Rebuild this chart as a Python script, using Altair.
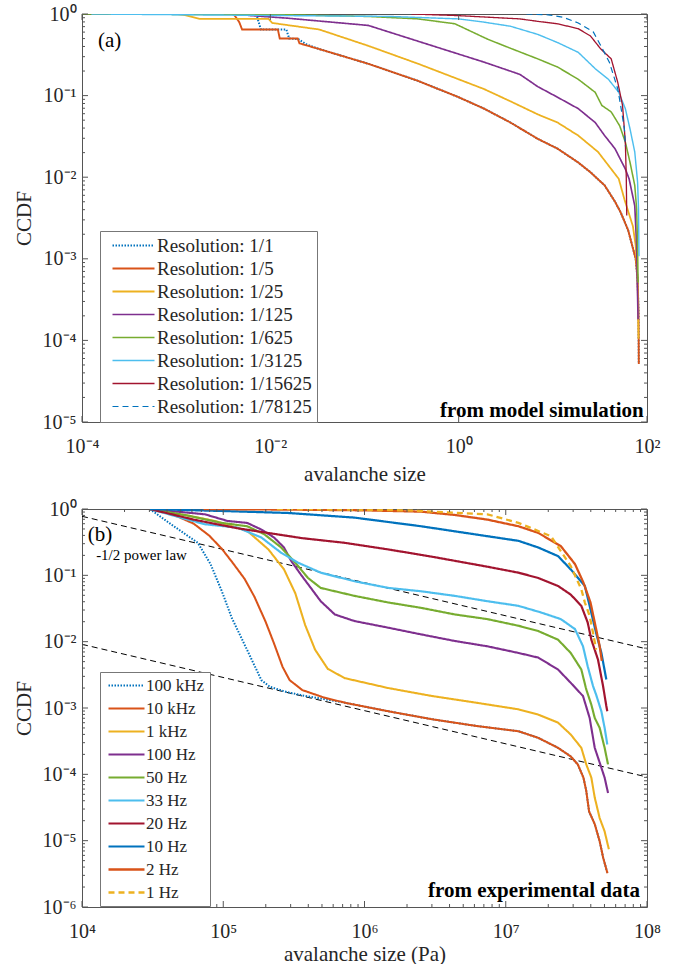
import altair as alt
import pandas as pd

FONT = "Liberation Serif"
INK = "#262626"
FRAME = "#555555"

# ---------------- panel (a): model simulation (log10 coordinates)
A_NAMES = ["Resolution: 1/1", "Resolution: 1/5", "Resolution: 1/25", "Resolution: 1/125",
           "Resolution: 1/625", "Resolution: 1/3125", "Resolution: 1/15625", "Resolution: 1/78125"]
A_COLORS = ["#0072BD", "#D95319", "#EDB120", "#7E2F8E", "#77AC30", "#4DBEEE", "#A2142F", "#0072BD"]
A_DASH = [[1.5, 1.5], [1, 0], [1, 0], [1, 0], [1, 0], [1, 0], [1, 0], [6, 4]]
A_WIDTH = [2.0, 1.2, 1.2, 1.2, 1.2, 1.2, 1.2, 1.2]

A_R1_LX = [-2.15, -2.10, -1.83, -1.80, -1.70, -1.62, -1.48, -0.96, -0.43, 0.0, 0.27, 0.55, 0.84,
           1.05, 1.27, 1.40, 1.55, 1.66, 1.72, 1.80, 1.88, 1.90, 1.91, 1.913]
A_R1_LY = [0.0, -0.19, -0.19, -0.30, -0.31, -0.37, -0.43, -0.61, -0.82, -1.02, -1.16, -1.33, -1.53,
           -1.65, -1.82, -1.94, -2.10, -2.30, -2.43, -2.65, -3.00, -3.25, -3.65, -4.29]
A_R5_LX = [-2.39, -2.33, -2.30, -1.92, -1.90, -1.71, -1.69, -1.48, -0.96, -0.43, 0.0, 0.27, 0.55, 0.84,
           1.05, 1.27, 1.40, 1.55, 1.66, 1.72, 1.80, 1.88, 1.90, 1.91, 1.913]
A_R5_LY = [0.0, -0.10, -0.19, -0.19, -0.30, -0.30, -0.36, -0.43, -0.61, -0.82, -1.02, -1.16, -1.33, -1.53,
           -1.65, -1.82, -1.94, -2.10, -2.30, -2.43, -2.65, -3.00, -3.25, -3.65, -4.29]
A_R25_LX = [-3.0, -2.92, -2.75, -2.02, -1.98, -1.48, -0.96, -0.43, 0.27, 0.55, 0.84, 1.05, 1.27, 1.48,
            1.62, 1.70, 1.76, 1.85, 1.88, 1.90, 1.91]
A_R25_LY = [0.0, -0.01, -0.06, -0.06, -0.11, -0.19, -0.39, -0.61, -0.92, -1.07, -1.23, -1.33, -1.49, -1.69,
            -1.90, -2.02, -2.27, -2.60, -2.84, -3.25, -3.98]
A_R125_LX = [-2.4, -2.2, -1.83, -0.96, -0.25, 0.27, 0.65, 0.84, 1.05, 1.27, 1.45, 1.55, 1.66, 1.77,
             1.81, 1.87, 1.89, 1.90, 1.905]
A_R125_LY = [0.0, -0.02, -0.05, -0.14, -0.40, -0.59, -0.74, -0.89, -1.02, -1.16, -1.33, -1.49, -1.65, -1.90,
             -2.02, -2.35, -2.84, -3.45, -3.74]
A_R625_LX = [-4.0, -1.8, -0.96, -0.43, -0.04, 0.31, 0.55, 0.84, 1.05, 1.27, 1.45, 1.52, 1.62, 1.71,
             1.77, 1.82, 1.87, 1.89, 1.90, 1.905]
A_R625_LY = [0.0, -0.01, -0.03, -0.06, -0.12, -0.31, -0.42, -0.55, -0.65, -0.80, -0.96, -1.12, -1.20, -1.37,
             -1.57, -1.82, -2.10, -2.39, -2.84, -3.29]
A_R3125_LX = [-3.9, -0.73, 0.0, 0.27, 0.55, 0.84, 1.05, 1.27, 1.45, 1.59, 1.70, 1.77, 1.82, 1.87,
              1.90, 1.91, 1.915]
A_R3125_LY = [0.0, -0.03, -0.06, -0.10, -0.15, -0.25, -0.35, -0.47, -0.67, -0.80, -0.96, -1.16, -1.41, -1.69,
              -2.06, -2.39, -2.97]
A_R15625_LX = [-0.5, 0.0, 0.65, 0.84, 1.05, 1.27, 1.40, 1.51, 1.62, 1.69, 1.74, 1.77, 1.78, 1.785]
A_R15625_LY = [0.0, -0.02, -0.06, -0.09, -0.12, -0.18, -0.27, -0.43, -0.55, -0.84, -1.12, -1.57, -2.0, -2.47]
A_R78125_LX = [0.72, 0.95, 1.11, 1.27, 1.43, 1.51, 1.60, 1.69, 1.72, 1.76, 1.77]
A_R78125_LY = [0.0, -0.01, -0.04, -0.11, -0.22, -0.39, -0.59, -0.92, -1.12, -1.41, -1.62]

A_LX = [A_R1_LX, A_R5_LX, A_R25_LX, A_R125_LX, A_R625_LX, A_R3125_LX, A_R15625_LX, A_R78125_LX]
A_LY = [A_R1_LY, A_R5_LY, A_R25_LY, A_R125_LY, A_R625_LY, A_R3125_LY, A_R15625_LY, A_R78125_LY]

# ---------------- panel (b): experimental data
B_NAMES = ["100 kHz", "10 kHz", "1 kHz", "100 Hz", "50 Hz", "33 Hz", "20 Hz", "10 Hz", "2 Hz", "1 Hz"]
B_COLORS = ["#0072BD", "#D95319", "#EDB120", "#7E2F8E", "#77AC30", "#4DBEEE", "#A2142F", "#0072BD",
            "#D95319", "#EDB120"]
B_DASH = [[1.5, 1.5], [1, 0], [1, 0], [1, 0], [1, 0], [1, 0], [1, 0], [1, 0], [1, 0], [6, 4]]
B_WIDTH = [2.0, 2.3, 2.3, 2.3, 2.3, 2.3, 2.3, 2.3, 2.3, 2.3]

B_100K_LX = [4.48, 4.63, 4.82, 4.91, 4.99, 5.06, 5.15, 5.23, 5.27, 5.33, 5.45, 5.56, 5.86, 6.17, 6.48,
             6.79, 7.09, 7.23, 7.37, 7.46, 7.51, 7.55, 7.57, 7.59, 7.63, 7.665, 7.69, 7.72]
B_100K_LY = [0.0, -0.23, -0.51, -0.83, -1.24, -1.64, -2.04, -2.40, -2.58, -2.68, -2.76, -2.81, -2.92, -3.05,
             -3.17, -3.27, -3.35, -3.45, -3.60, -3.73, -3.85, -4.05, -4.25, -4.56, -4.75, -5.01, -5.26, -5.49]
B_10K_LX = [4.48, 4.64, 4.79, 4.90, 4.99, 5.07, 5.15, 5.22, 5.30, 5.36, 5.42, 5.47, 5.56, 5.71, 5.86,
            6.17, 6.48, 6.79, 7.09, 7.23, 7.37, 7.46, 7.51, 7.55, 7.57, 7.59, 7.63, 7.665, 7.69, 7.72]
B_10K_LY = [0.0, -0.08, -0.22, -0.40, -0.60, -0.82, -1.05, -1.32, -1.70, -2.03, -2.38, -2.58, -2.73, -2.84,
            -2.92, -3.05, -3.17, -3.27, -3.35, -3.45, -3.60, -3.73, -3.85, -4.05, -4.25, -4.56, -4.75,
            -5.01, -5.26, -5.49]
B_1K_LX = [4.48, 4.75, 4.94, 5.17, 5.32, 5.43, 5.51, 5.58, 5.65, 5.74, 5.86, 6.17, 6.48, 6.79, 7.09,
           7.23, 7.37, 7.46, 7.535, 7.57, 7.606, 7.63, 7.665, 7.70, 7.73]
B_1K_LY = [0.0, -0.10, -0.18, -0.33, -0.61, -0.91, -1.27, -1.75, -2.12, -2.41, -2.55, -2.70, -2.82, -2.92,
           -3.02, -3.10, -3.22, -3.40, -3.60, -3.85, -4.05, -4.35, -4.66, -4.86, -5.13]
B_100_LX = [4.48, 4.87, 5.03, 5.17, 5.27, 5.36, 5.43, 5.48, 5.55, 5.62, 5.69, 5.79, 5.93, 6.17, 6.40,
            6.64, 6.87, 7.09, 7.23, 7.37, 7.46, 7.547, 7.594, 7.63, 7.677, 7.70, 7.724]
B_100_LY = [0.0, -0.08, -0.18, -0.21, -0.31, -0.43, -0.58, -0.78, -0.99, -1.19, -1.39, -1.59, -1.69, -1.79,
            -1.89, -1.99, -2.07, -2.17, -2.24, -2.42, -2.62, -2.82, -3.15, -3.60, -3.90, -4.05, -4.28]
B_50_LX = [4.48, 4.75, 4.99, 5.17, 5.29, 5.41, 5.51, 5.60, 5.69, 5.93, 6.17, 6.40, 6.64, 6.87, 7.09,
           7.23, 7.37, 7.46, 7.535, 7.57, 7.606, 7.63, 7.665, 7.70, 7.724]
B_50_LY = [0.0, -0.10, -0.21, -0.26, -0.38, -0.58, -0.81, -1.04, -1.19, -1.31, -1.41, -1.49, -1.59, -1.66,
           -1.76, -1.84, -1.97, -2.17, -2.42, -2.72, -2.95, -3.15, -3.30, -3.60, -3.85]
B_33_LX = [4.48, 4.70, 4.87, 5.10, 5.27, 5.41, 5.53, 5.69, 5.93, 6.17, 6.40, 6.64, 6.87, 7.09, 7.25,
           7.39, 7.49, 7.547, 7.58, 7.618, 7.64, 7.677, 7.70, 7.719]
B_33_LY = [0.0, -0.13, -0.23, -0.28, -0.43, -0.66, -0.81, -0.96, -1.09, -1.19, -1.24, -1.31, -1.39, -1.46,
           -1.56, -1.66, -1.81, -2.07, -2.37, -2.67, -2.80, -3.05, -3.30, -3.55]
B_20_LX = [4.48, 4.79, 5.10, 5.56, 5.86, 6.17, 6.48, 6.87, 7.09, 7.23, 7.37, 7.46, 7.535, 7.58, 7.606,
           7.653, 7.689, 7.712, 7.719]
B_20_LY = [0.0, -0.16, -0.29, -0.44, -0.51, -0.61, -0.72, -0.87, -0.96, -1.04, -1.16, -1.29, -1.46, -1.71,
           -1.97, -2.27, -2.67, -2.97, -3.05]
B_10_LX = [4.48, 4.99, 5.46, 5.93, 6.40, 6.87, 7.09, 7.23, 7.37, 7.46, 7.56, 7.594, 7.64, 7.677, 7.712]
B_10_LY = [0.0, -0.03, -0.06, -0.13, -0.26, -0.41, -0.48, -0.58, -0.71, -0.91, -1.16, -1.46, -1.87, -2.17,
           -2.57]
B_2_LX = [4.86, 5.5, 6.0, 6.40, 6.64, 6.87, 7.09, 7.23, 7.39, 7.49, 7.55, 7.60, 7.63, 7.665, 7.68]
B_2_LY = [0.0, -0.01, -0.02, -0.04, -0.09, -0.16, -0.26, -0.36, -0.56, -0.83, -1.11, -1.41, -1.71, -2.07,
          -2.29]
B_1_LX = [5.38, 6.29, 6.87, 7.09, 7.32, 7.46, 7.535, 7.56, 7.594, 7.618, 7.64]
B_1_LY = [0.0, -0.02, -0.08, -0.21, -0.41, -0.86, -1.21, -1.41, -1.61, -1.87, -2.12]

B_LX = [B_100K_LX, B_10K_LX, B_1K_LX, B_100_LX, B_50_LX, B_33_LX, B_20_LX, B_10_LX, B_2_LX, B_1_LX]
B_LY = [B_100K_LY, B_10K_LY, B_1K_LY, B_100_LY, B_50_LY, B_33_LY, B_20_LY, B_10_LY, B_2_LY, B_1_LY]

# -1/2 power-law guide lines (log10 y at x = 1e4 and x = 1e8)
PL_X = [1e4, 1e8]
PL_UPPER_LY = [-0.11, -2.11]
PL_LOWER_LY = [-2.04, -4.04]

# axis tick positions
A_XMAJ = [1e-4, 1e-2, 1e0, 1e2]
A_YMAJ = [10.0 ** e for e in range(-5, 1)]
A_YMIN = [m * 10.0 ** e for e in range(-5, 0) for m in range(2, 10)]
B_XMAJ = [10.0 ** e for e in range(4, 9)]
B_XMIN = [m * 10.0 ** e for e in range(4, 8) for m in range(2, 10)]
B_YMAJ = [10.0 ** e for e in range(-6, 1)]
B_YMIN = [m * 10.0 ** e for e in range(-6, 0) for m in range(2, 10)]

# superscript labels 10^k
expr = "'' + round(log(datum.value) / LN10)"
for a, b in [("-", "⁻"), ("0", "⁰"), ("1", "¹"), ("2", "²"), ("3", "³"), ("4", "⁴"),
             ("5", "⁵"), ("6", "⁶"), ("7", "⁷"), ("8", "⁸"), ("9", "⁹")]:
    expr = f"replace({expr}, '{a}', '{b}')"
LABEL_EXPR = "'10' + " + expr


def frame(names, lxs, lys, field):
    rows = []
    for name, lx, ly in zip(names, lxs, lys):
        for i, (a, b) in enumerate(zip(lx, ly)):
            rows.append({field: name, "x": 10.0 ** a, "y": 10.0 ** b, "i": i})
    return pd.DataFrame(rows)


def make_axis(title, vals, lab_pad, title_pad):
    return alt.Axis(values=vals, labelExpr=LABEL_EXPR, title=title, ticks=False, domain=False, grid=False,
                    labelFont=FONT, labelFontSize=20, labelColor=INK, labelPadding=lab_pad,
                    labelFlush=False, labelOverlap=False, titleFont=FONT, titleFontSize=21,
                    titleFontWeight="normal", titleColor=INK, titlePadding=title_pad)


def tick_layers(maj, mnr, ch, field_enc_fn, W, H):
    out = []
    for vals, L in ((maj, 6), (mnr, 3)):
        if not vals:
            continue
        d = pd.DataFrame({"v": vals})
        base = alt.Chart(d).mark_rule(color=FRAME, strokeWidth=1)
        if ch == "x":
            out.append(base.encode(x=field_enc_fn("v"), y=alt.value(H), y2=alt.value(H - L)))
            out.append(base.encode(x=field_enc_fn("v"), y=alt.value(0), y2=alt.value(L)))
        else:
            out.append(base.encode(y=field_enc_fn("v"), x=alt.value(0), x2=alt.value(L)))
            out.append(base.encode(y=field_enc_fn("v"), x=alt.value(W), x2=alt.value(W - L)))
    return out


def panel(df, field, names, colors, dashes, widths, xdom, ydom, W, H, xmaj, xmin, ymaj, ymin,
          xtitle, xtp, legend, texts, extra=None):
    xs = alt.Scale(type="log", domain=xdom, nice=False)
    ys = alt.Scale(type="log", domain=ydom, nice=False)
    xax = make_axis(xtitle, xmaj, 14, xtp)
    yax = make_axis("CCDF", ymaj, 6, 8)

    def X(f):
        return alt.X(f"{f}:Q", scale=xs, axis=xax)

    def Y(f):
        return alt.Y(f"{f}:Q", scale=ys, axis=yax)

    lines = alt.Chart(df).mark_line(clip=True).encode(
        x=X("x"), y=Y("y"),
        color=alt.Color(f"{field}:N", scale=alt.Scale(domain=names, range=colors), legend=legend),
        strokeDash=alt.StrokeDash(f"{field}:N", scale=alt.Scale(domain=names, range=dashes), legend=legend),
        strokeWidth=alt.StrokeWidth(f"{field}:O", scale=alt.Scale(domain=names, range=widths), legend=None),
        order=alt.Order("i:Q"),
    )
    layers = []
    if extra is not None:
        layers.append(extra(X, Y))
    layers.append(lines)
    for t in texts:
        td = pd.DataFrame({"x": [t["x"]], "y": [t["y"]], "t": [t["text"]]})
        layers.append(alt.Chart(td).mark_text(
            font=FONT, fontSize=t["size"], fontWeight=t.get("weight", "normal"), align=t["align"],
            baseline="middle", color="#000000").encode(x=X("x"), y=Y("y"), text="t:N"))
    layers += tick_layers(xmaj, xmin, "x", X, W, H)
    layers += tick_layers(ymaj, ymin, "y", Y, W, H)
    return alt.layer(*layers).properties(width=W, height=H)


W = 565
HA = 408
HB = 398

df_a = frame(A_NAMES, A_LX, A_LY, "sa")
df_b = frame(B_NAMES, B_LX, B_LY, "sb")

# legend line symbols: a short horizontal path, so rows stay compact
legend_a = alt.Legend(orient="none", legendX=18, legendY=217, title=None, labelFont=FONT, labelFontSize=19,
                      labelColor=INK, symbolType="M-4.2,0H4.2", symbolSize=100, symbolStrokeWidth=1.5,
                      strokeColor="#777777", fillColor="white", padding=5, rowPadding=3,
                      symbolOffset=19, labelOffset=14, labelLimit=0)
legend_b = alt.Legend(orient="none", legendX=18, legendY=163, title=None, labelFont=FONT, labelFontSize=17,
                      labelColor=INK, symbolType="M-3.6,0H3.6", symbolSize=100, symbolStrokeWidth=2.5,
                      strokeColor="#777777", fillColor="white", padding=5, rowPadding=5,
                      symbolOffset=13, labelOffset=11, labelLimit=0)

texts_a = [
    {"x": 10 ** -3.83, "y": 10 ** -0.33, "text": "(a)", "size": 21, "align": "left"},
    {"x": 10 ** 1.966, "y": 10 ** -4.865, "text": "from model simulation", "size": 21, "align": "right",
     "weight": "bold"},
]
texts_b = [
    {"x": 10 ** 4.04, "y": 10 ** -0.39, "text": "(b)", "size": 21, "align": "left"},
    {"x": 10 ** 4.10, "y": 10 ** -0.69, "text": "-1/2 power law", "size": 15, "align": "left"},
    {"x": 10 ** 7.95, "y": 10 ** -5.76, "text": "from experimental data", "size": 21, "align": "right",
     "weight": "bold"},
]

pl_rows = []
for name, ly in (("upper", PL_UPPER_LY), ("lower", PL_LOWER_LY)):
    for i, (xv, lyv) in enumerate(zip(PL_X, ly)):
        pl_rows.append({"g": name, "x": xv, "y": 10.0 ** lyv, "i": i})
df_pl = pd.DataFrame(pl_rows)


def powerlaw(X, Y):
    return alt.Chart(df_pl).mark_line(color="#000000", strokeDash=[6, 4], strokeWidth=1, clip=True).encode(
        x=X("x"), y=Y("y"), detail="g:N", order=alt.Order("i:Q"))


pa = panel(df_a, "sa", A_NAMES, A_COLORS, A_DASH, A_WIDTH, [1e-4, 1e2], [1e-5, 1], W, HA,
           A_XMAJ, [], A_YMAJ, A_YMIN, "avalanche size", 7, legend_a, texts_a)
pb = panel(df_b, "sb", B_NAMES, B_COLORS, B_DASH, B_WIDTH, [1e4, 1e8], [1e-6, 1], W, HB,
           B_XMAJ, B_XMIN, B_YMAJ, B_YMIN, "avalanche size (Pa)", 2, legend_b, texts_b, extra=powerlaw)

chart = alt.vconcat(pa, pb, spacing=13).resolve_scale(
    color="independent", strokeDash="independent", strokeWidth="independent"
).properties(
    padding={"left": 12, "top": 3, "right": 10, "bottom": 0},
    background="white",
).configure_view(stroke=FRAME, strokeWidth=1)

chart.save("out.html", embed_options={"renderer": "svg", "actions": False})
